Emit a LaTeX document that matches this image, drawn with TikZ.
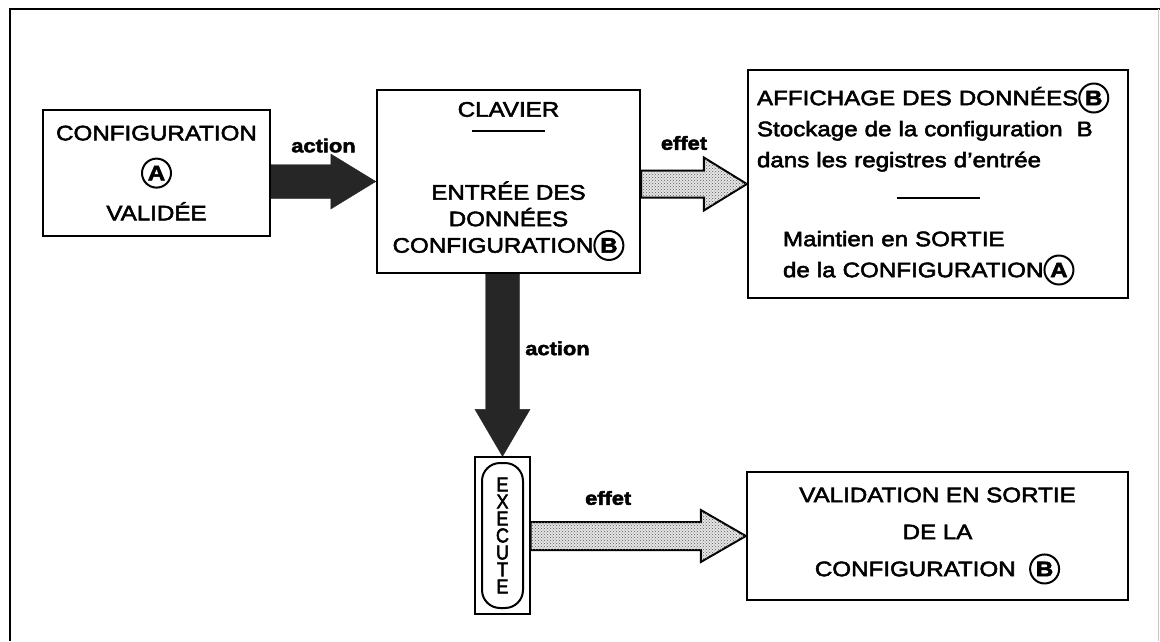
\documentclass[tikz,border=0pt]{standalone}
\usepackage{fontspec}
\setmainfont{Liberation Sans}[FakeStretch=1.15,FakeBold=2.5]
\newfontfamily\narrowfont{Liberation Sans}[FakeStretch=0.9,FakeBold=2.5]
\usetikzlibrary{positioning,calc,fit,patterns}
\tikzset{box/.style={draw,line width=2.4pt,inner sep=0pt,align=center,font=\fontsize{21}{40}\selectfont}}
\tikzset{lbl/.style={font=\bfseries\fontsize{19}{22}\selectfont}}
\tikzset{action arrow/.style={fill=black!85,draw=black!85}}
\tikzset{effect arrow/.style={draw,line width=2pt,fill=gray!20,postaction={pattern=crosshatch dots,pattern color=black!65}}}

\newcommand{\circled}[1]{\tikz[baseline=(c.base)]\node[circle,draw,line width=2pt,inner sep=1pt,minimum size=29pt](c){\bfseries #1};}
% fat arrow: style, from, to, shaft half width, head half width, head length
\newcommand{\fatarrow}[6]{%
  \coordinate (fa s) at (#2);
  \coordinate (fa t) at (#3);
  \coordinate (fa h) at ($(fa t)!#6!(fa s)$);
  \draw[#1] ($(fa s)!#4!90:(fa t)$) -- ($(fa h)!#4!90:(fa t)$) -- ($(fa h)!#5!90:(fa t)$) -- (fa t)
    -- ($(fa h)!#5!-90:(fa t)$) -- ($(fa h)!#4!-90:(fa t)$) -- ($(fa s)!#4!-90:(fa t)$) -- cycle;
}

\begin{document}
\begin{tikzpicture}[x=1pt,y=-1pt]
  \useasboundingbox (0,0) rectangle (1160,641);
  % frame
  \draw[line width=1.4pt] (10,641) -- (10,9) -- (1160,9);
  \draw[gray!45] (1158,9) -- (1158,641);

  \node[box, minimum width=227pt, minimum height=126pt] (confA) at (156.5,173)
    {CONFIGURATION\\\circled{A}\\VALIDÉE};
  \node[box, font=\fontsize{21}{26.5}\selectfont, minimum width=263pt, minimum height=183pt] (clavier) at (508.5,181.5)
    {CLAVIER\\[-6pt]\rule[5pt]{73pt}{2.6pt}\\[36pt]ENTRÉE DES\\DONNÉES\\CONFIGURATION\circled{B}};
  \node[box, font=\fontsize{21}{31}\selectfont, align=left, text width=362pt, inner xsep=9pt, minimum height=228pt] (affich) at (938,184)
    {AFFICHAGE DES DONNÉES\circled{B}\\
     Stockage de la configuration~~B\\
     dans les registres d'entrée\\
     \hspace*{140pt}\rule[-1pt]{83pt}{2.6pt}\\[17pt]
     \hspace*{26pt}Maintien en SORTIE\\
     \hspace*{26pt}de la CONFIGURATION\circled{A}};
  \node[draw, line width=2pt, rounded corners=18pt, minimum width=41pt, minimum height=145pt, inner sep=0pt,
    align=center, font=\narrowfont\fontsize{20}{17}\selectfont] (exec) at (502.5,535.5) {E\\X\\E\\C\\U\\T\\E};
  \node[draw, line width=1.2pt, fit=(exec), inner xsep=6pt, inner ysep=5pt] (execframe) {};
  \node[box, font=\fontsize{21}{37}\selectfont, minimum width=381pt, minimum height=128pt] (valid) at (937.5,536)
    {VALIDATION EN SORTIE\\DE LA\\CONFIGURATION~~\circled{B}};

  % arrows
  \fatarrow{action arrow}{confA.east |- clavier.west}{clavier.west}{17pt}{27.5pt}{45pt}
  \node[lbl] (act1) at ($(fa s)!0.5!(fa t)+(0,-36)$) {action};
  \fatarrow{effect arrow}{clavier.east |- affich.west}{affich.west}{13.5pt}{26.5pt}{43pt}
  \node[lbl] (eff1) at ($(fa s)!0.5!(fa t)+(-10,-41)$) {effet};
  \fatarrow{action arrow}{clavier.south -| execframe.north}{execframe.north}{17pt}{27.5pt}{47pt}
  \node[lbl] (act2) at ($(fa s)!0.5!(fa t)+(55,-17)$) {action};
  \fatarrow{effect arrow}{execframe.east |- valid.west}{valid.west}{14pt}{26pt}{45pt}
  \node[lbl] (eff2) at ($(fa s)!0.5!(fa t)+(-30,-38)$) {effet};
\end{tikzpicture}
\end{document}
